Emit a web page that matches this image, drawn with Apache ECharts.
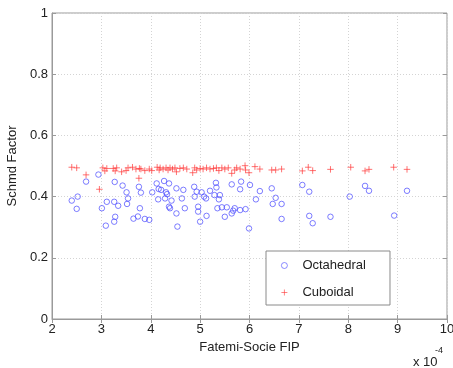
<!DOCTYPE html>
<html>
<head>
<meta charset="utf-8">
<script src="https://cdn.jsdelivr.net/npm/echarts@6/dist/echarts.min.js"></script>
<style>
html,body{margin:0;padding:0;background:#fff;}
#chart{width:453px;height:368px;}
</style>
</head>
<body>
<div id="chart"></div>
<script>
// X values are in units of 1e-4 (axis shows "x 10^-4")
var xTicks = ['2','3','4','5','6','7','8','9','10'];
var yTicks = ['0','0.2','0.4','0.6','0.8','1'];
var seriesNames = ['Octahedral', 'Cuboidal'];

var octaX = [2.40,2.52,2.50,2.69,2.94,3.01,3.11,3.09,3.27,3.26,3.34,3.28,3.26,3.43,3.51,3.54,3.52,3.65,3.74,3.78,
  3.76,3.80,3.88,3.97,4.03,4.15,4.16,4.12,4.21,4.27,4.31,4.37,4.29,4.33,4.37,4.39,4.42,4.52,4.52,4.54,
  4.63,4.66,4.69,4.88,4.93,4.89,4.96,4.96,5.00,5.03,5.08,5.12,5.13,5.20,5.29,5.32,5.33,5.35,5.40,5.38,
  5.44,5.50,5.54,5.64,5.64,5.67,5.70,5.81,5.83,5.81,5.92,5.99,6.01,6.13,6.21,6.45,6.53,6.47,6.65,6.65,
  7.07,7.21,7.21,7.28,7.64,8.03,8.34,8.42,8.93,9.19];
var octaY = [0.387,0.400,0.360,0.449,0.472,0.362,0.383,0.305,0.448,0.383,0.370,0.334,0.318,0.436,0.414,0.394,0.376,0.328,0.335,0.362,
  0.432,0.413,0.327,0.324,0.414,0.391,0.425,0.443,0.422,0.451,0.414,0.443,0.394,0.408,0.367,0.362,0.387,0.427,0.345,0.302,
  0.394,0.422,0.362,0.432,0.416,0.400,0.367,0.351,0.318,0.414,0.400,0.394,0.337,0.419,0.405,0.445,0.430,0.362,0.405,0.391,
  0.365,0.334,0.365,0.440,0.345,0.354,0.362,0.424,0.449,0.356,0.359,0.296,0.438,0.391,0.418,0.427,0.396,0.376,0.376,0.327,
  0.438,0.416,0.337,0.313,0.334,0.400,0.435,0.419,0.338,0.419];

var cuboX = [2.40,2.50,2.69,2.96,3.03,3.11,3.07,3.24,3.28,3.31,3.41,3.50,3.54,3.63,3.70,3.77,3.80,3.76,3.88,3.97,
  4.02,4.13,4.17,4.19,4.25,4.31,4.35,4.39,4.44,4.49,4.52,4.59,4.66,4.73,4.85,4.89,4.93,5.00,5.06,5.13,
  5.20,5.27,5.33,5.38,5.44,5.50,5.57,5.64,5.70,5.74,5.81,5.91,5.92,5.99,6.11,6.21,6.45,6.53,6.65,7.07,
  7.19,7.28,7.64,8.05,8.34,8.42,8.92,9.19];
var cuboY = [0.496,0.494,0.471,0.424,0.494,0.492,0.484,0.492,0.484,0.494,0.481,0.485,0.494,0.496,0.490,0.492,0.490,0.460,0.485,0.490,
  0.485,0.496,0.487,0.494,0.490,0.494,0.487,0.494,0.490,0.494,0.481,0.492,0.494,0.490,0.478,0.494,0.487,0.492,0.490,0.494,
  0.490,0.492,0.494,0.485,0.494,0.490,0.494,0.476,0.487,0.494,0.490,0.501,0.487,0.478,0.498,0.490,0.487,0.487,0.490,0.484,
  0.496,0.485,0.489,0.496,0.484,0.489,0.496,0.489];

function zip(xs, ys){ return xs.map(function(x,i){ return [x, ys[i]]; }); }

var font = 'Liberation Sans, Arial, Helvetica, sans-serif';
var chart = echarts.init(document.getElementById('chart'), null, {renderer:'canvas'});
var plusPath = 'path://M0,5L10,5M5,0L5,10';
var ringPath = 'path://M10,5A5,5,0,1,1,0,5A5,5,0,1,1,10,5Z';

chart.setOption({
  animation:false,
  backgroundColor:'#fff',
  grid:{left:52,right:6,top:13,bottom:49,outerBoundsMode:'none',containLabel:false,
    show:true,borderColor:'#9a9a9a',borderWidth:1,backgroundColor:'#fff'},
  xAxis:[{
    type:'value', min:2, max:10, interval:1,
    name:'Fatemi-Socie FIP', nameLocation:'middle', nameGap:22,
    nameTextStyle:{fontFamily:font,fontSize:13,color:'#222'},
    axisLine:{show:true,lineStyle:{color:'#9a9a9a'}},
    axisTick:{show:true,inside:true,length:4,lineStyle:{color:'#9a9a9a'}},
    axisLabel:{fontFamily:font,fontSize:13,color:'#222',margin:4,
      formatter:function(v){ var i=Math.round(v)-2; return xTicks[i]!==undefined?xTicks[i]:''; }},
    splitLine:{show:true,lineStyle:{color:'#d4d4d4',type:[1,2]}}
  },{
    type:'value', min:2, max:10, interval:1, position:'top',
    axisLine:{show:false}, axisTick:{show:true,inside:true,length:4,lineStyle:{color:'#9a9a9a'}},
    axisLabel:{show:false}, splitLine:{show:false}
  }],
  yAxis:[{
    type:'value', min:0, max:1, interval:0.2,
    name:'Schmd Factor', nameLocation:'middle', nameGap:30, nameRotate:90,
    nameTextStyle:{fontFamily:font,fontSize:13,color:'#222'},
    axisLine:{show:true,lineStyle:{color:'#9a9a9a'}},
    axisTick:{show:true,inside:true,length:4,lineStyle:{color:'#9a9a9a'}},
    axisLabel:{fontFamily:font,fontSize:13,color:'#222',margin:4,
      formatter:function(v){ var i=Math.round(v*5); return yTicks[i]!==undefined?yTicks[i]:''; }},
    splitLine:{show:true,lineStyle:{color:'#d4d4d4',type:[1,2]}}
  },{
    type:'value', min:0, max:1, interval:0.2, position:'right',
    axisLine:{show:false}, axisTick:{show:true,inside:true,length:4,lineStyle:{color:'#9a9a9a'}},
    axisLabel:{show:false}, splitLine:{show:false}
  }],
  legend:{
    orient:'vertical', left:266, top:251,
    backgroundColor:'#fff', borderColor:'#8a8a8a', borderWidth:1,
    padding:[8,24,6,15], itemGap:14, itemWidth:6, itemHeight:6,
    itemStyle:{borderWidth:0.8},
    textStyle:{fontFamily:font,fontSize:13,color:'#222',padding:[0,0,0,10]},
    data:seriesNames
  },
  series:[{
    name:seriesNames[0], type:'scatter', xAxisIndex:0, yAxisIndex:0,
    symbol:ringPath, symbolSize:5.5,
    itemStyle:{color:'rgba(0,0,0,0)',borderColor:'#4a4aff',borderWidth:0.9},
    data:zip(octaX, octaY)
  },{
    name:seriesNames[1], type:'scatter', xAxisIndex:0, yAxisIndex:0,
    symbol:plusPath, symbolSize:6.5,
    itemStyle:{color:'rgba(0,0,0,0)',borderColor:'#ff3a3a',borderWidth:0.9},
    data:zip(cuboX, cuboY)
  }],
  graphic:[{
    type:'text', left:413, top:356,
    style:{text:'x 10', fontFamily:font, fontSize:13, fill:'#222'}
  },{
    type:'text', left:435, top:346,
    style:{text:'-4', fontFamily:font, fontSize:9, fill:'#222'}
  }]
});
</script>
</body>
</html>
